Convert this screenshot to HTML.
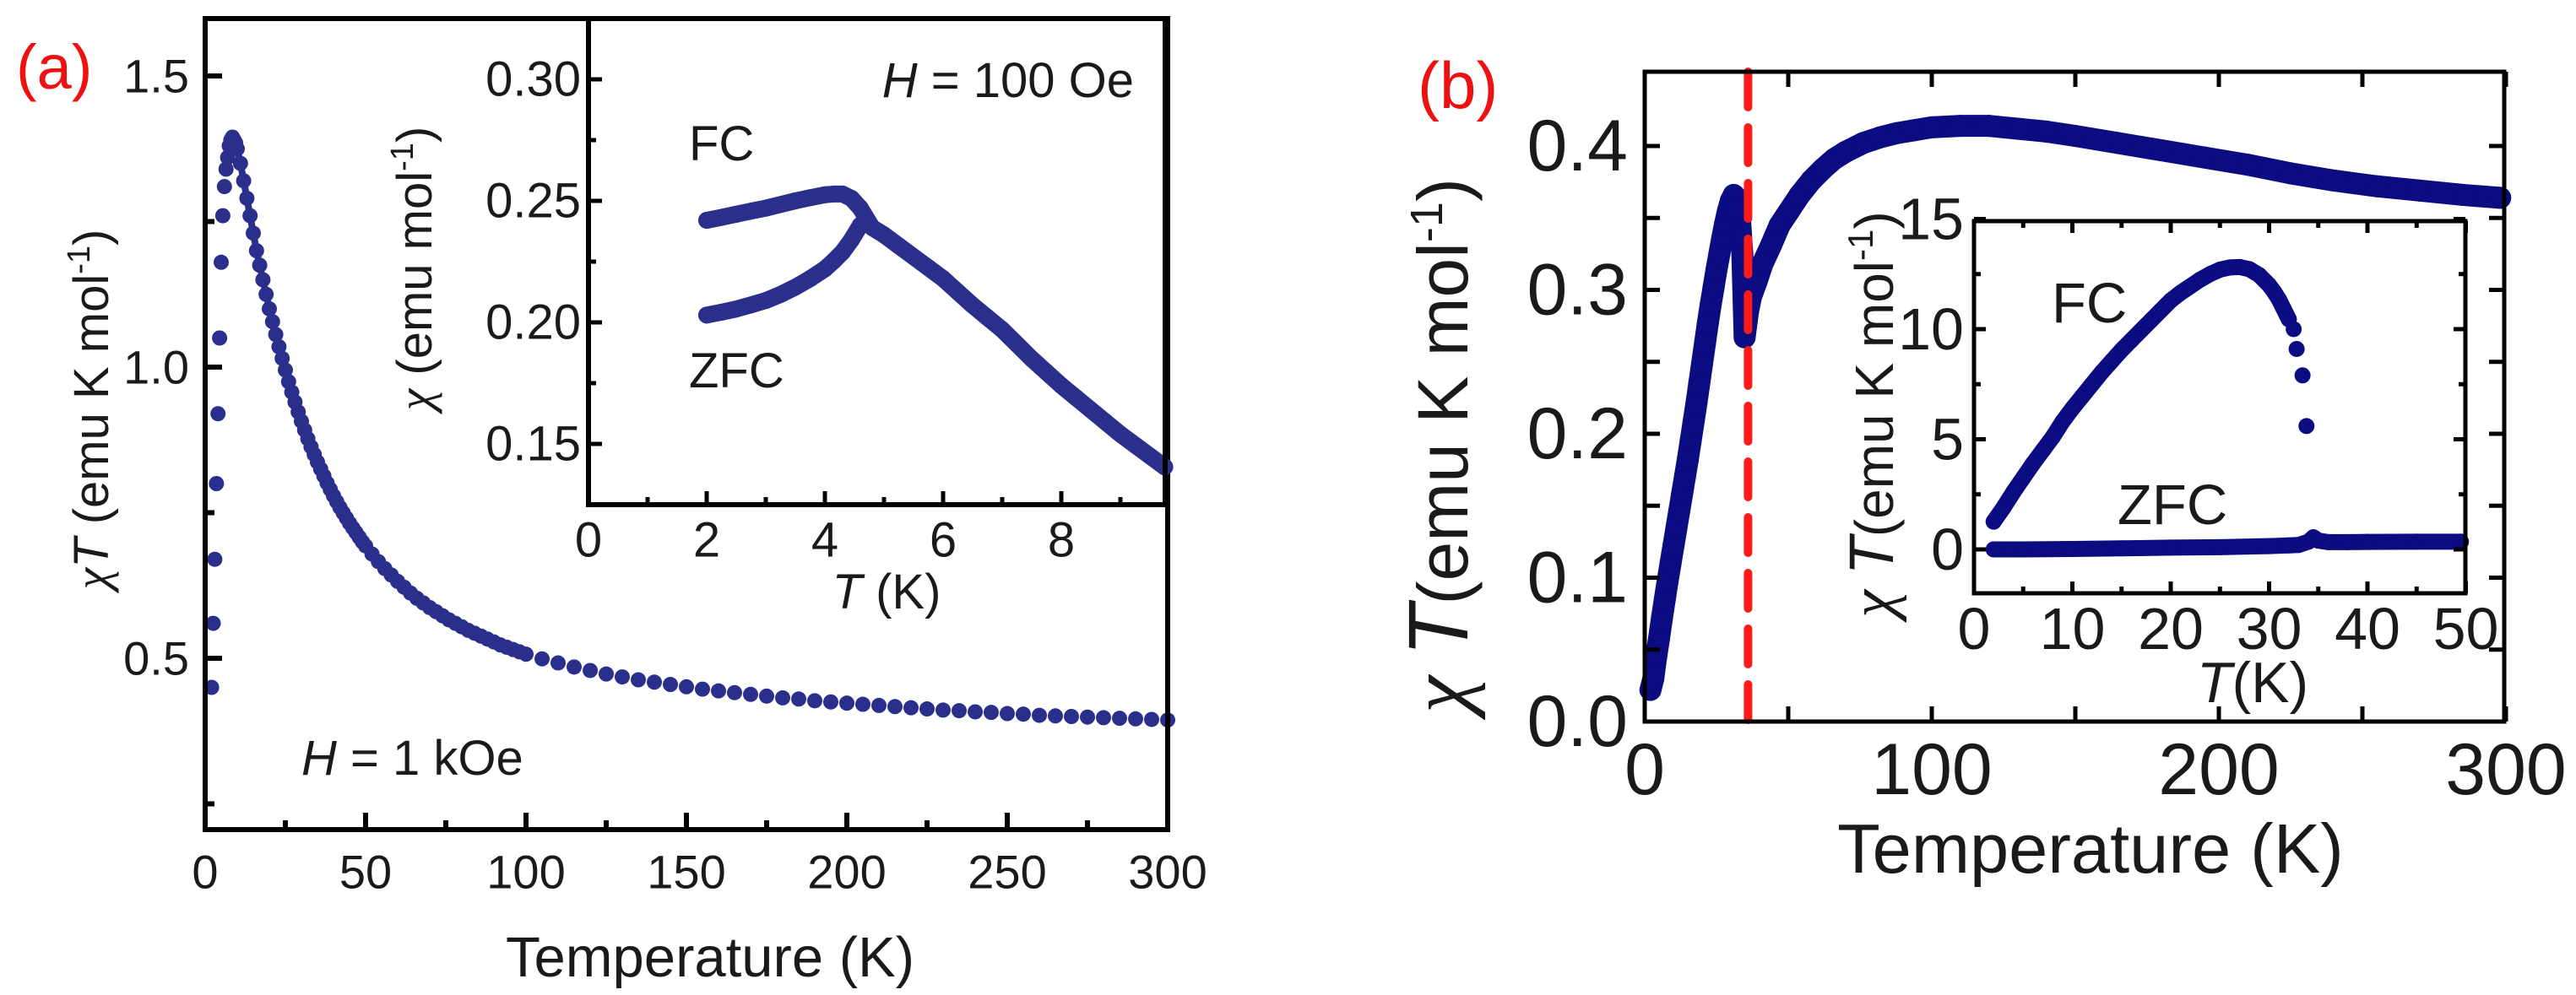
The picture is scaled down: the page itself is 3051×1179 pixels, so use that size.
<!DOCTYPE html>
<html><head><meta charset="utf-8">
<style>
html,body{margin:0;padding:0;background:#fff;}
svg{display:block;font-family:"Liberation Sans",sans-serif;}
text{fill:#1a1a1a;}
</style></head>
<body>
<svg id="chart" width="3051" height="1179" viewBox="0 0 3051 1179" xmlns="http://www.w3.org/2000/svg">
<rect x="0" y="0" width="3051" height="1179" fill="#fff"/>
<g id="pa"></g>
<g id="pai"></g>
<g id="pb"></g>
<g id="pbi"></g>
<g id="labels">
<text x="19" y="105" font-size="74" style="fill:#ee1111">(a)</text>
<text x="1679" y="128" font-size="78" style="fill:#ee1111">(b)</text>
<text x="841" y="1157" font-size="67" text-anchor="middle">Temperature (K)</text>
<text transform="translate(128,485) rotate(-90)" font-size="58" text-anchor="middle"><tspan font-family="Liberation Serif" font-style="italic">χ</tspan><tspan font-style="italic">T</tspan> (emu K mol<tspan dy="-22" font-size="38">-1</tspan><tspan dy="22">)</tspan></text>
<text x="357" y="918" font-size="58"><tspan font-style="italic">H</tspan> = 1 kOe</text>
<text x="1343" y="115" font-size="58" text-anchor="end"><tspan font-style="italic">H</tspan> = 100 Oe</text>
<text x="816" y="190" font-size="58">FC</text>
<text x="816" y="459" font-size="58">ZFC</text>
<text x="1050" y="721" font-size="58" text-anchor="middle"><tspan font-style="italic">T</tspan> (K)</text>
<text transform="translate(511,318) rotate(-90)" font-size="58" text-anchor="middle"><tspan font-family="Liberation Serif" font-style="italic">χ</tspan> (emu mol<tspan dy="-22" font-size="38">-1</tspan><tspan dy="22">)</tspan></text>
<text x="2476" y="1034" font-size="83" text-anchor="middle">Temperature (K)</text>
<text transform="translate(1738,528) rotate(-90)" font-size="84" text-anchor="middle"><tspan font-family="Liberation Serif" font-style="italic" font-size="100">χ</tspan> <tspan font-style="italic" font-size="100">T</tspan>(emu K mol<tspan dy="-30" font-size="54">-1</tspan><tspan dy="30">)</tspan></text>
<text x="2430" y="382" font-size="67">FC</text>
<text x="2508" y="621" font-size="67">ZFC</text>
<text x="2668" y="832" font-size="68" text-anchor="middle"><tspan font-style="italic">T</tspan>(K)</text>
<text transform="translate(2242,491) rotate(-90)" font-size="64" text-anchor="middle"><tspan font-family="Liberation Serif" font-style="italic" font-size="74">χ</tspan> <tspan font-style="italic" font-size="74">T</tspan>(emu K mol<tspan dy="-24" font-size="42">-1</tspan><tspan dy="24">)</tspan></text>
</g>
</svg>
<script>
// ---------- data ----------
const aMainT = [2,2.5,3,3.5,4,4.5,5,5.5,6,6.5,7,7.5,8,8.5,9,9.5,10,11,12,13,14,15,16,17,18,19,20,21,22,23,24,25,26,27,28,29,30,31,32,33,34,35,36,37,38,39,40,41,42,43,44,45,46,47,48,49,50,52,54,56,58,60,62,64,66,68,70,72,74,76,78,80,82,84,86,88,90,92,94,96,98,100,105,110,115,120,125,130,135,140,145,150,155,160,165,170,175,180,185,190,195,200,205,210,215,220,225,230,235,240,245,250,255,260,265,270,275,280,285,290,295,300];
const aMainChiT = [0.45,0.56,0.67,0.80,0.92,1.05,1.18,1.26,1.31,1.34,1.36,1.38,1.39,1.395,1.39,1.385,1.375,1.35,1.32,1.29,1.26,1.23,1.20,1.175,1.15,1.125,1.10,1.078,1.056,1.035,1.015,0.995,0.975,0.957,0.94,0.923,0.907,0.892,0.877,0.863,0.85,0.837,0.825,0.813,0.801,0.79,0.779,0.769,0.759,0.75,0.741,0.732,0.724,0.716,0.708,0.70,0.693,0.679,0.666,0.654,0.643,0.632,0.622,0.612,0.603,0.595,0.587,0.58,0.573,0.566,0.56,0.554,0.548,0.543,0.538,0.533,0.528,0.523,0.519,0.515,0.511,0.507,0.499,0.492,0.485,0.479,0.473,0.468,0.463,0.459,0.455,0.451,0.447,0.444,0.441,0.438,0.435,0.432,0.43,0.427,0.425,0.423,0.421,0.419,0.417,0.415,0.413,0.411,0.41,0.408,0.407,0.405,0.404,0.402,0.401,0.4,0.399,0.398,0.397,0.396,0.395,0.394];
const aMainXTicks = [0,50,100,150,200,250,300];
const aMainXMinor = [25,75,125,175,225,275];
const aMainYTicks = [0.5,1.0,1.5];
const aMainYLabels = ['0.5','1.0','1.5'];
const aMainYMinor = [0.25,0.75,1.25];

const aInsFcT = [2,2.25,2.5,2.75,3,3.25,3.5,3.75,4,4.15,4.3,4.45,4.6];
const aInsFc = [0.242,0.2432,0.2445,0.2458,0.247,0.2485,0.250,0.2513,0.2525,0.2528,0.2528,0.251,0.247];
const aInsZfcT = [2,2.25,2.5,2.75,3,3.25,3.5,3.75,4,4.15,4.3,4.45,4.6];
const aInsZfc = [0.203,0.2042,0.2055,0.2072,0.209,0.2115,0.2145,0.218,0.222,0.2253,0.229,0.234,0.240];
const aInsCommonT = [4.6,4.8,5,5.25,5.5,5.75,6,6.25,6.5,6.75,7,7.25,7.5,7.75,8,8.25,8.5,8.75,9,9.25,9.5,9.75];
const aInsCommon = [0.247,0.239,0.236,0.2315,0.227,0.2225,0.218,0.2125,0.207,0.202,0.197,0.191,0.185,0.1795,0.174,0.169,0.164,0.159,0.154,0.1495,0.145,0.1405];
const aInsXTicks = [0,2,4,6,8];
const aInsXMinor = [1,3,5,7,9];
const aInsYTicks = [0.15,0.20,0.25,0.30];
const aInsYLabels = ['0.15','0.20','0.25','0.30'];
const aInsYMinor = [0.175,0.225,0.275];

const bMainT = [2,3,4,5,6,7,8,9,10,11,12,13,14,15,16,17,18,19,20,21,22,23,24,25,26,27,28,29,30,31,32,33,34,34.8,36,37,39,41,44,47,50,54,58,62,66,70,76,82,88,94,100,110,120,130,140,150,165,180,195,210,225,240,255,270,285,298];
const bMainChiT = [0.022,0.03,0.045,0.058,0.072,0.085,0.098,0.11,0.122,0.134,0.146,0.158,0.17,0.182,0.195,0.208,0.221,0.235,0.249,0.263,0.277,0.29,0.302,0.314,0.325,0.336,0.346,0.355,0.362,0.366,0.364,0.355,0.325,0.267,0.285,0.295,0.306,0.318,0.331,0.345,0.354,0.366,0.376,0.384,0.391,0.396,0.402,0.406,0.409,0.411,0.413,0.414,0.414,0.412,0.41,0.407,0.402,0.397,0.392,0.387,0.381,0.376,0.372,0.369,0.366,0.364];
const bTransitionT = [36];
const bMainXTicks = [0,100,200,300];
const bMainXMinor = [50,150,250];
const bMainYTicks = [0,0.1,0.2,0.3,0.4];
const bMainYLabels = ['0.0','0.1','0.2','0.3','0.4'];
const bMainYMinor = [0.05,0.15,0.25,0.35];

const bInsFcT = [2,3,4,5,6,7,8,9,10,11,12,13,14,15,16,17,18,19,20,21,22,23,24,25,26,27,28,29,30,30.5,31,31.5,32,32.5,32.8,33.4,33.8];
const bInsFc = [1.26,1.9,2.6,3.25,3.9,4.5,5.1,5.8,6.4,6.95,7.5,8.05,8.55,9.05,9.5,9.95,10.4,10.85,11.3,11.65,11.95,12.25,12.5,12.7,12.8,12.82,12.72,12.45,12.0,11.7,11.35,10.9,10.45,10.0,9.1,7.9,5.6];
const bInsZfcT = [2,5,10,15,20,25,30,32,33,34,34.5,35,36,38,40,45,49.5];
const bInsZfc = [0.0,0.0,0.02,0.05,0.08,0.1,0.15,0.18,0.2,0.35,0.55,0.4,0.33,0.33,0.34,0.35,0.35];
const bInsXTicks = [0,10,20,30,40,50];
const bInsXMinor = [5,15,25,35,45];
const bInsYTicks = [0,5,10,15];
const bInsYLabels = ['0','5','10','15'];
const bInsYMinor = [2.5,7.5,12.5];

// ---------- scales ----------
const NS = 'http://www.w3.org/2000/svg';
const axA = {x0:243,x1:1383,y0:22,y1:983, sx:t=>243+t*3.8, sy:v=>90+(1.5-v)*690};
const axAI = {x0:697,x1:1380,y0:22,y1:598, sx:t=>697+t*70, sy:v=>94+(0.30-v)*2880};
const axB = {x0:1948,x1:2966,y0:85,y1:855, sx:t=>1948+t*3.4, sy:v=>855-v*1705};
const axBI = {x0:2338,x1:2920,y0:262,y1:703, sx:t=>2338+t*11.65, sy:v=>651-v*26.1};

function el(tag, parent){ const e=document.createElementNS(NS,tag); parent.appendChild(e); return e; }

function frame(g, ax, sw, name){
  const r = el('rect', g);
  
  
  r.setAttribute('x', ax.x0); r.setAttribute('y', ax.y0);
  r.setAttribute('width', ax.x1-ax.x0); r.setAttribute('height', ax.y1-ax.y0);
  r.setAttribute('fill', 'none'); r.setAttribute('stroke', '#000'); r.setAttribute('stroke-width', sw);
}
function whiteBg(g, ax, name){
  const r = el('rect', g);
  
  
  r.setAttribute('x', ax.x0); r.setAttribute('y', ax.y0);
  r.setAttribute('width', ax.x1-ax.x0); r.setAttribute('height', ax.y1-ax.y0);
  r.setAttribute('fill', '#fff');
}
function tickLine(g, x1,y1,x2,y2, sw){
  const l = el('line', g);
  
  
  l.setAttribute('x1',x1); l.setAttribute('y1',y1); l.setAttribute('x2',x2); l.setAttribute('y2',y2);
  l.setAttribute('stroke','#000'); l.setAttribute('stroke-width',sw);
}
function xTicks(g, ax, vals, len, sw, both){
  vals.forEach(v=>{ const x=ax.sx(v);
    tickLine(g, x, ax.y1, x, ax.y1-len, sw);
    if(both) tickLine(g, x, ax.y0, x, ax.y0+len, sw); });
}
function yTicks(g, ax, vals, len, sw, both){
  vals.forEach(v=>{ const y=ax.sy(v);
    tickLine(g, ax.x0, y, ax.x0+len, y, sw);
    if(both) tickLine(g, ax.x1, y, ax.x1-len, y, sw); });
}
function xLabels(g, ax, vals, labels, y, fs, name){
  vals.forEach((v,i)=>{
    const t = el('text', g);
    
    
    t.setAttribute('x', ax.sx(v)); t.setAttribute('y', y);
    t.setAttribute('font-size', fs); t.setAttribute('text-anchor','middle');
    t.setAttribute('dominant-baseline','central');
    t.textContent = labels ? labels[i] : String(v);
  });
}
function yLabels(g, ax, vals, labels, xr, fs, name){
  vals.forEach((v,i)=>{
    const t = el('text', g);
    
    
    t.setAttribute('x', xr); t.setAttribute('y', ax.sy(v));
    t.setAttribute('font-size', fs); t.setAttribute('text-anchor','end');
    t.setAttribute('dominant-baseline','central');
    t.textContent = labels[i];
  });
}
function dots(g, ax, xs, ys, r, color, name){
  xs.forEach((x,i)=>{
    const c = el('circle', g);
    
    
    c.setAttribute('cx', ax.sx(x)); c.setAttribute('cy', ax.sy(ys[i])); c.setAttribute('r', r);
    c.setAttribute('fill', color);
  });
}
function band(g, ax, xs, ys, w, color, name){
  const p = el('polyline', g);
  
  
  p.setAttribute('points', xs.map((x,i)=>ax.sx(x)+','+ax.sy(ys[i])).join(' '));
  p.setAttribute('fill','none'); p.setAttribute('stroke',color); p.setAttribute('stroke-width',w);
  p.setAttribute('stroke-linejoin','round'); p.setAttribute('stroke-linecap','round');
}

const cA = '#2b2f8c', cB = '#0b0b82';

// ---------- panel a ----------
const pa = document.getElementById('pa');
band(pa, axA, aMainT.slice(16,82), aMainChiT.slice(16,82), 8, cA, 'series-chiT-link');
dots(pa, axA, aMainT, aMainChiT, 9, cA, 'data-point-chiT');
frame(pa, axA, 6, 'panel-a-axes-frame');
xTicks(pa, axA, aMainXTicks, 20, 6, false);
xTicks(pa, axA, aMainXMinor, 11, 6, false);
yTicks(pa, axA, aMainYTicks, 20, 6, false);
yTicks(pa, axA, aMainYMinor, 11, 6, false);
xLabels(pa, axA, aMainXTicks, null, 1033, 56, 'x-tick-label');
yLabels(pa, axA, aMainYTicks, aMainYLabels, 224, 56, 'y-tick-label');

// ---------- inset a ----------
const pai = document.getElementById('pai');
whiteBg(pai, axAI, 'inset-a-background');
band(pai, axAI, aInsFcT, aInsFc, 20, cA, 'series-fc-band');
band(pai, axAI, aInsZfcT, aInsZfc, 20, cA, 'series-zfc-band');
band(pai, axAI, aInsCommonT, aInsCommon, 20, cA, 'series-common-band');
dots(pai, axAI, aInsFcT, aInsFc, 10, cA, 'data-point-fc');
dots(pai, axAI, aInsZfcT, aInsZfc, 10, cA, 'data-point-zfc');
dots(pai, axAI, aInsCommonT, aInsCommon, 10, cA, 'data-point-above-transition');
frame(pai, axAI, 6, 'inset-a-axes-frame');
xTicks(pai, axAI, aInsXTicks, 16, 5, false);
xTicks(pai, axAI, aInsXMinor, 9, 5, false);
yTicks(pai, axAI, aInsYTicks, 16, 5, false);
yTicks(pai, axAI, aInsYMinor, 9, 5, false);
xLabels(pai, axAI, aInsXTicks, null, 640, 58, 'inset-x-tick-label');
yLabels(pai, axAI, aInsYTicks, aInsYLabels, 688, 58, 'inset-y-tick-label');

// ---------- panel b ----------
const pb = document.getElementById('pb');
band(pb, axB, bMainT, bMainChiT, 26, cB, 'series-chiT-band');
dots(pb, axB, bMainT, bMainChiT, 13, cB, 'data-point-chiT');
bTransitionT.forEach(t=>{
  const l = el('line', pb);
  
  
  l.setAttribute('x1', axB.sx(t)); l.setAttribute('x2', axB.sx(t));
  l.setAttribute('y1', axB.y0); l.setAttribute('y2', axB.y1);
  l.setAttribute('stroke','#ff1a1a'); l.setAttribute('stroke-width',10);
  l.setAttribute('stroke-dasharray','42 24'); l.setAttribute('stroke-linecap','round');
});
frame(pb, axB, 5, 'panel-b-axes-frame');
xTicks(pb, axB, bMainXTicks, 18, 5, true);
xTicks(pb, axB, bMainXMinor, 18, 5, true);
yTicks(pb, axB, bMainYTicks, 18, 5, true);
yTicks(pb, axB, bMainYMinor, 18, 5, true);
xLabels(pb, axB, bMainXTicks, null, 912, 86, 'x-tick-label');
yLabels(pb, axB, bMainYTicks, bMainYLabels, 1928, 86, 'y-tick-label');

// ---------- inset b ----------
const pbi = document.getElementById('pbi');
whiteBg(pbi, axBI, 'inset-b-background');
band(pbi, axBI, bInsFcT.slice(0,33), bInsFc.slice(0,33), 19, cB, 'series-fc-band');
band(pbi, axBI, bInsZfcT, bInsZfc, 19, cB, 'series-zfc-band');
dots(pbi, axBI, bInsFcT, bInsFc, 9.5, cB, 'data-point-fc');
dots(pbi, axBI, bInsZfcT, bInsZfc, 9.5, cB, 'data-point-zfc');
frame(pbi, axBI, 5, 'inset-b-axes-frame');
xTicks(pbi, axBI, bInsXTicks, 14, 5, true);
xTicks(pbi, axBI, bInsXMinor, 8, 5, true);
yTicks(pbi, axBI, bInsYTicks, 14, 5, true);
yTicks(pbi, axBI, bInsYMinor, 8, 5, true);
xLabels(pbi, axBI, bInsXTicks, null, 745, 70, 'inset-x-tick-label');
yLabels(pbi, axBI, bInsYTicks, bInsYLabels, 2326, 70, 'inset-y-tick-label');
</script>
</body></html>
